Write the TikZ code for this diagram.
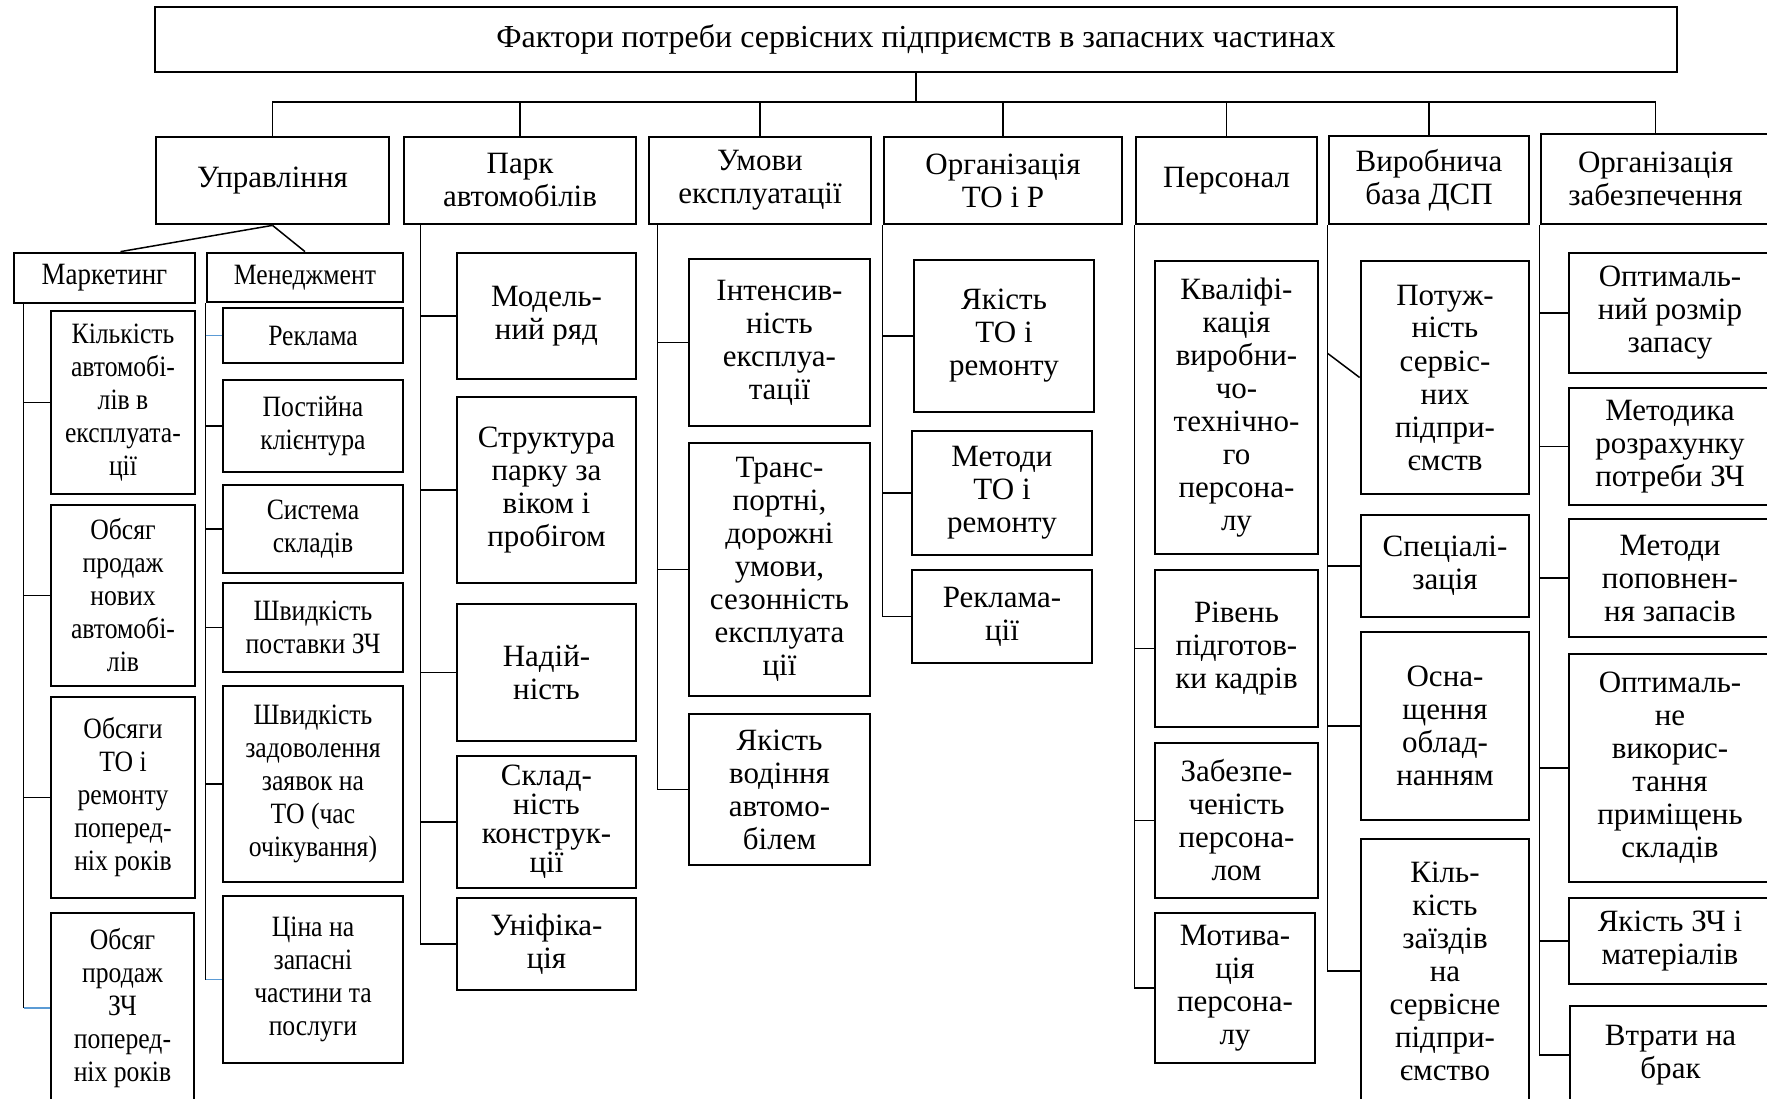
\documentclass[tikz,border=0pt]{standalone}
\usepackage{fontspec}
\setmainfont{Liberation Serif}
\newfontfamily\narrowserif[FakeStretch=0.87]{Liberation Serif}
\usetikzlibrary{calc}
\definecolor{wordblue}{RGB}{91,155,213}
\tikzset{
  box/.style={draw, line width=1.1pt, inner sep=0pt, align=center,
    font=\fontsize{12.4}{13.2}\selectfont},
  narrowbox/.style={box, font=\narrowserif\fontsize{11.8}{13.2}\selectfont},
  wh/.style 2 args={minimum width=#1*0.4pt, minimum height=#2*0.4pt},
  link/.style={line width=0.6pt},
  bluelink/.style={line width=0.6pt, draw=wordblue},
}
\begin{document}
\begin{tikzpicture}[x=0.4pt,y=-0.4pt]
\useasboundingbox (0,0) rectangle (1767,1099);
\clip (0,0) rectangle (1767,1099);

% top level
\node[box, wh={1522}{65}, font=\fontsize{12.8}{13.2}\selectfont] (title) at (916,39.5) {Фактори потреби сервісних підприємств в запасних частинах};

\node[box, wh={233}{87}] (upr) at (272.5,180.5) {Управління};
\node[box, wh={232}{87}] (park) at (520,180.5) {Парк\\автомобілів};
\node[box, wh={222}{87}] (umovy) at (760,180.5) {Умови\\експлуатації};
\node[box, wh={238}{87}] (orgto) at (1003,180.5) {Організація\\ТО і Р};
\node[box, wh={181}{87}] (pers) at (1226.5,180.5) {Персонал};
\node[box, wh={200}{88}] (vyrob) at (1429,180) {Виробнича\\база ДСП};
\node[box, wh={229}{90}] (orgzab) at (1655.5,179) {Організація\\забезпечення};

\coordinate (bus) at (917,102);
\draw[link] (title.south) -- (title.south |- bus);
\foreach \h in {upr,park,umovy,orgto,pers,vyrob,orgzab}
  \draw[link] (\h.north) |- (bus);

% management
\node[narrowbox, wh={181}{50}, font=\narrowserif\fontsize{12.4}{13.2}\selectfont] (market) at (104.5,278) {Маркетинг};
\node[narrowbox, wh={196}{49}] (mened) at (305,277.5) {Менеджмент};
\draw[link] (upr.south) -- ($(market.north)+(16,0)$);
\draw[link] (upr.south) -- (mened.north);

\node[narrowbox, wh={144}{183}] (m1) at (123,402.5) {Кількість\\автомобі-\\лів в\\експлуата-\\ції};
\node[narrowbox, wh={144}{181}] (m2) at (123,595.5) {Обсяг\\продаж\\нових\\автомобі-\\лів};
\node[narrowbox, wh={144}{201}] (m3) at (123,797.5) {Обсяги\\ТО і\\ремонту\\поперед-\\ніх років};
\node[narrowbox, wh={143}{190}] (m4) at (122.5,1008) {Обсяг\\продаж\\ЗЧ\\поперед-\\ніх років};

\node[narrowbox, wh={180}{55}] (g1) at (313,335.5) {Реклама};
\node[narrowbox, wh={180}{92}] (g2) at (313,426) {Постійна\\клієнтура};
\node[narrowbox, wh={180}{88}] (g3) at (313,529) {Система\\складів};
\node[narrowbox, wh={180}{89}] (g4) at (313,627.5) {Швидкість\\поставки ЗЧ};
\node[narrowbox, wh={180}{196}] (g5) at (313,784) {Швидкість\\задоволення\\заявок на\\ТО (час\\очікування)};
\node[narrowbox, wh={180}{167}] (g6) at (313,979.5) {Ціна на\\запасні\\частини та\\послуги};

\coordinate (mk) at ($(market.south west)+(11,0)$);
\foreach \c in {m1,m2,m3}
  \draw[link] (mk) |- (\c.west);
\draw[link] (mk) -- (mk |- m4.west);
\draw[bluelink] (mk |- m4.west) -- (m4.west);

\coordinate (mn) at (mened.south west);
\foreach \c in {g2,g3,g4,g5}
  \draw[link] (mn) |- (\c.west);
\draw[link] (mn) -- (mn |- g6.west);
\draw[bluelink] (mn |- g1.west) -- (g1.west);
\draw[bluelink] (mn |- g6.west) -- (g6.west);

% fleet
\node[box, wh={179}{126}] (p1) at (546.5,316) {Модель-\\ний ряд};
\node[box, wh={179}{186}] (p2) at (546.5,490) {Структура\\парку за\\віком і\\пробігом};
\node[box, wh={179}{137}] (p3) at (546.5,672.5) {Надій-\\ність};
\node[box, wh={179}{132}, font=\fontsize{12.4}{11.6}\selectfont] (p4) at (546.5,822) {Склад-\\ність\\конструк-\\ції};
\node[box, wh={179}{92}] (p5) at (546.5,944) {Уніфіка-\\ція};
\coordinate (pk) at ($(park.south west)+(18,0)$);
\foreach \c in {p1,p2,p3,p4,p5}
  \draw[link] (pk) |- (\c.west);

% operating conditions
\node[box, wh={181}{167}] (u1) at (779.5,342.5) {Інтенсив-\\ність\\експлуа-\\тації};
\node[box, wh={181}{253}] (u2) at (779.5,569.5) {Транс-\\портні,\\дорожні\\умови,\\сезонність\\експлуата\\ції};
\node[box, wh={181}{151}] (u3) at (779.5,789.5) {Якість\\водіння\\автомо-\\білем};
\coordinate (um) at ($(umovy.south west)+(10,0)$);
\foreach \c in {u1,u2,u3}
  \draw[link] (um) |- (\c.west);

% maintenance
\node[box, wh={180}{152}] (o1) at (1004,336) {Якість\\ТО і\\ремонту};
\node[box, wh={180}{124}] (o2) at (1002,493) {Методи\\ТО і\\ремонту};
\node[box, wh={180}{93}] (o3) at (1002,616.5) {Реклама-\\ції};
\coordinate (ot) at (orgto.south west);
\foreach \c in {o1,o2,o3}
  \draw[link] (ot) |- (\c.west);

% staff
\node[box, wh={163}{293}] (s1) at (1236.5,407.5) {Кваліфі-\\кація\\виробни-\\чо-\\технічно-\\го\\персона-\\лу};
\node[box, wh={163}{157}] (s2) at (1236.5,648.5) {Рівень\\підготов-\\ки кадрів};
\node[box, wh={163}{155}] (s3) at (1236.5,820.5) {Забезпе-\\ченість\\персона-\\лом};
\node[box, wh={160}{150}] (s4) at (1235,988) {Мотива-\\ція\\персона-\\лу};
\coordinate (ps) at (pers.south west);
\foreach \c in {s2,s3,s4}
  \draw[link] (ps) |- (\c.west);

% production base
\node[box, wh={168}{233}] (v1) at (1445,377.5) {Потуж-\\ність\\сервіс-\\них\\підпри-\\ємств};
\node[box, wh={168}{102}] (v2) at (1445,566) {Спеціалі-\\зація};
\node[box, wh={168}{188}] (v3) at (1445,726) {Осна-\\щення\\облад-\\нанням};
\node[box, wh={168}{264}] (v4) at (1445,971) {Кіль-\\кість\\заїздів\\на\\сервісне\\підпри-\\ємство};
\coordinate (vb) at (vyrob.south west);
\foreach \c in {v2,v3,v4}
  \draw[link] (vb) |- (\c.west);
\draw[link] ($(vb)+(0,128)$) -- (v1.west);

% supply
\node[box, wh={202}{120}] (z1) at (1670,313) {Оптималь-\\ний розмір\\запасу};
\node[box, wh={202}{117}] (z2) at (1670,446.5) {Методика\\розрахунку\\потреби ЗЧ};
\node[box, wh={202}{118}] (z3) at (1670,578) {Методи\\поповнен-\\ня запасів};
\node[box, wh={202}{228}] (z4) at (1670,768) {Оптималь-\\не\\викорис-\\тання\\приміщень\\складів};
\node[box, wh={202}{86}] (z5) at (1670,941) {Якість ЗЧ і\\матеріалів};
\node[box, wh={201}{98}] (z6) at (1670.5,1055) {Втрати на\\брак};
\coordinate (oz) at (orgzab.south west);
\foreach \c in {z1,z2,z3,z4,z5,z6}
  \draw[link] (oz) |- (\c.west);
\end{tikzpicture}
\end{document}
